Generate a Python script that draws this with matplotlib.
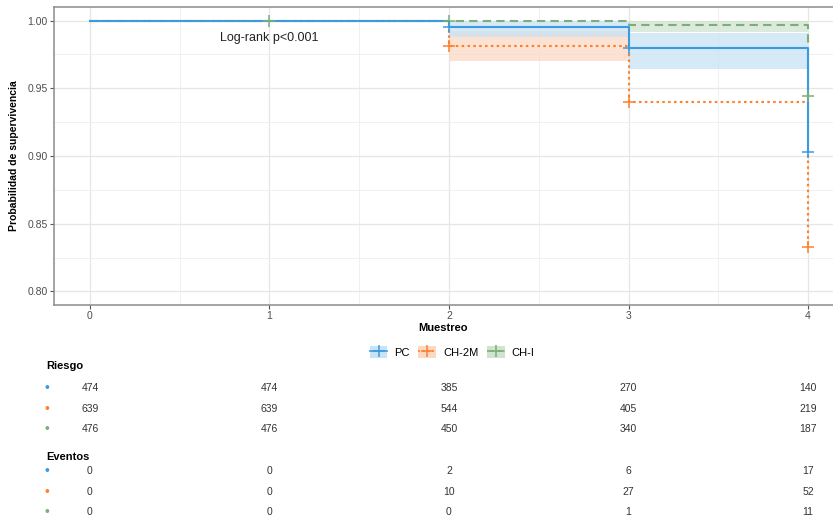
import matplotlib
matplotlib.use("Agg")
import matplotlib.pyplot as plt
import matplotlib.transforms as mtransforms
from matplotlib.patches import Patch
from matplotlib.lines import Line2D
import numpy as np

plt.rcParams["font.family"] = ["Liberation Sans", "DejaVu Sans"]

# Sampling times (Muestreo)
times = [0, 1, 2, 3, 4]
groups = ["PC", "CH-2M", "CH-I"]

# Kaplan-Meier survival estimates per group at each time
surv_pc = [1.0, 1.0, 0.995, 0.980, 0.903]
surv_ch2m = [1.0, 1.0, 0.9815, 0.940, 0.833]
surv_chi = [1.0, 1.0, 1.0, 0.997, 0.944]

# Confidence band limits (drawn between consecutive times)
lower_pc = [1.0, 1.0, 0.988, 0.9645, 0.9645]
upper_pc = [1.0, 1.0, 0.9995, 0.991, 0.991]
lower_ch2m = [1.0, 1.0, 0.970, 0.940, 0.940]
upper_ch2m = [1.0, 1.0, 0.9925, 0.940, 0.940]
lower_chi = [1.0, 1.0, 1.0, 0.9915, 0.9915]
upper_chi = [1.0, 1.0, 1.0, 0.9995, 0.9995]

# Censoring marks (times)
cens_pc = [2, 3, 4]
cens_ch2m = [2, 3, 4]
cens_chi = [1, 2, 4]

# Number at risk and number of events
riesgo = {
    "PC": [474, 474, 385, 270, 140],
    "CH-2M": [639, 639, 544, 405, 219],
    "CH-I": [476, 476, 450, 340, 187],
}
eventos = {
    "PC": [0, 0, 2, 6, 17],
    "CH-2M": [0, 0, 10, 27, 52],
    "CH-I": [0, 0, 0, 1, 11],
}

colors = {"PC": "#3a9be0", "CH-2M": "#ff7f2a", "CH-I": "#7aae7a"}
fills = {"PC": "#c9e2f5", "CH-2M": "#fcd9c4", "CH-I": "#cfe3cf"}
styles = {"PC": "-", "CH-2M": (0, (1.2, 1.6)), "CH-I": (0, (4, 2.5))}

series = {
    "PC": (surv_pc, lower_pc, upper_pc, cens_pc),
    "CH-2M": (surv_ch2m, lower_ch2m, upper_ch2m, cens_ch2m),
    "CH-I": (surv_chi, lower_chi, upper_chi, cens_chi),
}

W, H = 833, 520
fig = plt.figure(figsize=(W / 100, H / 100), dpi=100)
ax = fig.add_axes([54 / W, 1 - 305 / H, (844 - 54) / W, (305 - 7) / H])

ax.set_xlim(-0.2, 4.2)
ax.set_ylim(0.79, 1.01)
ax.set_xticks([0, 1, 2, 3, 4])
ax.set_yticks([0.80, 0.85, 0.90, 0.95, 1.00])
ax.set_yticklabels(["0.80", "0.85", "0.90", "0.95", "1.00"])
ax.set_xticks(np.arange(0.5, 4, 1), minor=True)
ax.set_yticks([0.825, 0.875, 0.925, 0.975], minor=True)
ax.grid(True, which="major", color="#e6e6e6", lw=0.9)
ax.grid(True, which="minor", color="#f0f0f0", lw=0.7)
ax.set_axisbelow(True)
for s in ax.spines.values():
    s.set_color("#8c8c8c")
    s.set_linewidth(1.1)
ax.tick_params(which="major", colors="#555555", labelsize=7.5, length=3,
               width=0.8, pad=1.5)
ax.tick_params(which="minor", length=0)
for lbl in ax.get_xticklabels() + ax.get_yticklabels():
    lbl.set_color("#4d4d4d")

# Confidence bands
for g in ["CH-2M", "PC", "CH-I"]:
    s, lo, up, _ = series[g]
    ax.fill_between(times, lo, up, step="post", color=fills[g], alpha=0.75,
                    lw=0, zorder=1)

# Survival curves
for g in ["CH-I", "CH-2M", "PC"]:
    s, lo, up, cens = series[g]
    ax.step(times, s, where="post", color=colors[g], ls=styles[g], lw=1.5, zorder=3)
    cy = [s[times.index(t)] for t in cens]
    ax.plot(cens, cy, ls="none", marker="+", ms=8, mew=1.1, color=colors[g], zorder=4)

ax.text(1.0, 0.987, "Log-rank p<0.001", ha="center", va="center", fontsize=9,
        color="#222222")

ax.set_ylabel("Probabilidad de supervivencia", fontsize=7.5, fontweight="bold")
ax.yaxis.set_label_coords((19 - 54) / (844 - 54), 0.5)
fig.text(443 / W, 1 - 328 / H, "Muestreo", ha="center", va="center",
         fontsize=8, fontweight="bold")

# Legend
handles = []
for g in groups:
    handles.append((Patch(facecolor=fills[g], edgecolor="none"),
                    Line2D([], [], color=colors[g], ls=styles[g], lw=1.2,
                           marker="+", ms=8, mew=1.1)))
fig.legend(handles, groups, loc="center", bbox_to_anchor=(452 / W, 1 - 352 / H),
           ncol=3, frameon=False, fontsize=8, handlelength=1.6, handleheight=1.3,
           columnspacing=0.8, handletextpad=0.6)

# Risk / events tables aligned with the x axis
trans = mtransforms.blended_transform_factory(ax.transData, fig.transFigure)

def draw_table(title, title_y, row_ys, data):
    fig.text(46 / W, 1 - title_y / H, title, ha="left", va="center",
             fontsize=8, fontweight="bold")
    for g, y in zip(groups, row_ys):
        fig.text(47 / W, 1 - y / H, "\u2022", ha="center", va="center",
                 fontsize=10, color=colors[g])
        for t, v in zip(times, data[g]):
            fig.text(t, 1 - y / H, str(v), ha="center", va="center",
                     fontsize=7.5, color="#333333", transform=trans)

draw_table("Riesgo", 366, [388, 409, 429], riesgo)
draw_table("Eventos", 457, [471, 492, 512], eventos)

fig.savefig("out.png", dpi=100)
